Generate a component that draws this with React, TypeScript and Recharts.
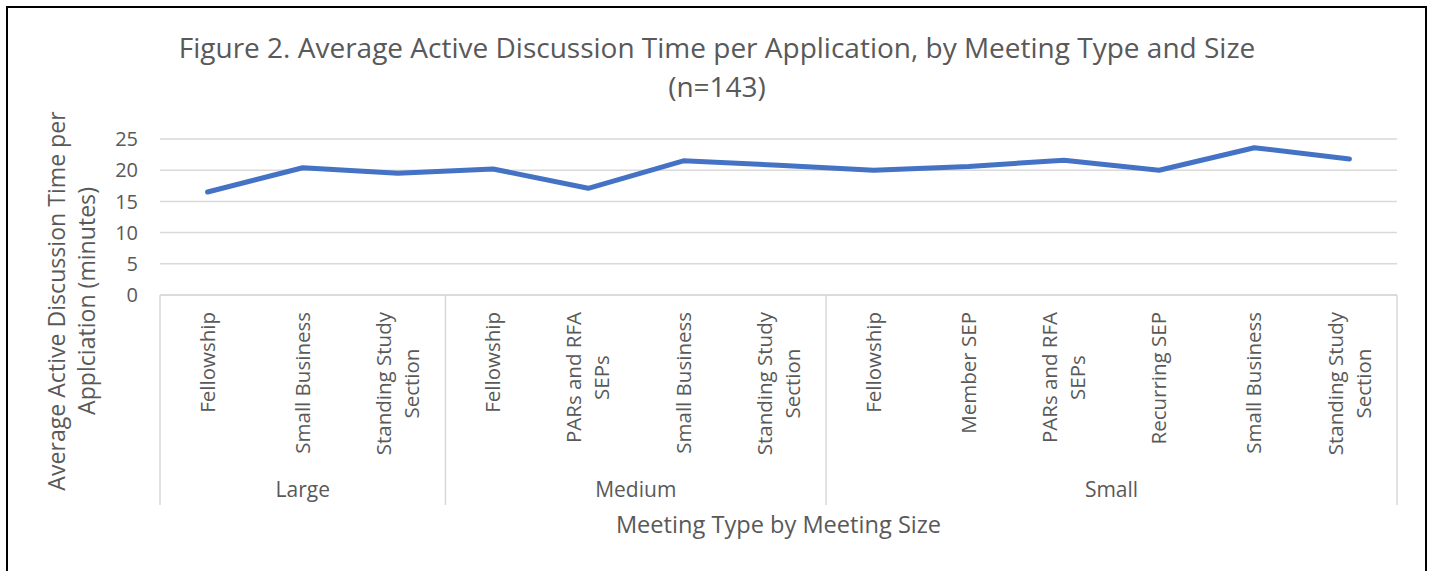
import React from 'react';
import { LineChart, Line, XAxis, YAxis, CartesianGrid } from 'recharts';

// Meeting size group for every category, in order along the axis
const meetingSizes = [
  'Large', 'Large', 'Large',
  'Medium', 'Medium', 'Medium', 'Medium',
  'Small', 'Small', 'Small', 'Small', 'Small', 'Small',
];

const meetingTypes = [
  'Fellowship', 'Small Business', 'Standing Study Section',
  'Fellowship', 'PARs and RFA SEPs', 'Small Business', 'Standing Study Section',
  'Fellowship', 'Member SEP', 'PARs and RFA SEPs', 'Recurring SEP', 'Small Business', 'Standing Study Section',
];

// average active discussion time per application (minutes)
const avgMinutes = [16.5, 20.4, 19.5, 20.2, 17.1, 21.5, 20.8, 20.0, 20.6, 21.6, 20.0, 23.6, 21.8];

const yTicks = [0, 5, 10, 15, 20, 25];

const chartTitle = 'Figure 2. Average Active Discussion Time per Application, by Meeting Type and Size';
const chartSubtitle = '(n=143)';
const yTitleLines = ['Average Active Discussion Time per', 'Applciation (minutes)'];
const xTitle = 'Meeting Type by Meeting Size';

const data = meetingTypes.map((type, i) => ({
  key: `${meetingSizes[i]}-${type}`,
  type,
  size: meetingSizes[i],
  minutes: avgMinutes[i],
}));

const W = 1434;
const H = 571;
const PLOT_LEFT = 160;
const PLOT_RIGHT = 1397;
const PLOT_TOP = 139;
const PLOT_BOTTOM = 295;
const X_AXIS_H = 210;
const Y_AXIS_W = 60;
const STEP = (PLOT_RIGHT - PLOT_LEFT) / data.length;

const FONT = '"Open Sans", "Noto Sans", sans-serif';
const TEXT = '#595959';
const GRID = '#d9d9d9';
const LABEL_SIZE = 20.5;
const GROUP_SIZE = 21;
const LABEL_MAX = 158;
const LINE_H = 28;

let ctx: CanvasRenderingContext2D | null = null;
const measure = (s: string) => {
  if (!ctx) ctx = document.createElement('canvas').getContext('2d');
  if (!ctx) return s.length * LABEL_SIZE * 0.55;
  ctx.font = `${LABEL_SIZE}px "Open Sans"`;
  return ctx.measureText(s).width;
};

// greedy word wrap, like Excel does for long category labels
const wrap = (s: string) => {
  const out: string[] = [];
  let cur = '';
  s.split(' ').forEach((w) => {
    const next = cur ? `${cur} ${w}` : w;
    if (cur && measure(next) > LABEL_MAX) {
      out.push(cur);
      cur = w;
    } else cur = next;
  });
  if (cur) out.push(cur);
  return out;
};

const CategoryTick = (props: any) => {
  const { x, index } = props;
  const d = data[index];
  if (!d) return null;
  const lines = wrap(d.type);
  const longest = Math.max(...lines.map(measure));
  const cy = PLOT_BOTTOM + 17 + longest / 2;
  const start = -((lines.length - 1) / 2) * LINE_H;

  const first = index === 0 || data[index - 1].size !== d.size;
  const count = data.filter((r) => r.size === d.size).length;
  const last = index === data.length - 1;

  return (
    <g>
      <text
        transform={`translate(${x},${cy}) rotate(-90)`}
        textAnchor="middle"
        fill={TEXT}
        fontSize={LABEL_SIZE}
        fontFamily={FONT}
      >
        {lines.map((l, i) => (
          <tspan key={i} x={0} y={start + i * LINE_H} dy="0.35em">{l}</tspan>
        ))}
      </text>
      {first && (
        <>
          <line x1={x - STEP / 2} x2={x - STEP / 2} y1={PLOT_BOTTOM} y2={505} stroke={GRID} strokeWidth={1.5} />
          <text
            x={x + ((count - 1) / 2) * STEP}
            y={497}
            textAnchor="middle"
            fill={TEXT}
            fontSize={GROUP_SIZE}
            fontFamily={FONT}
          >
            {d.size}
          </text>
        </>
      )}
      {last && (
        <line x1={x + STEP / 2} x2={x + STEP / 2} y1={PLOT_BOTTOM} y2={505} stroke={GRID} strokeWidth={1.5} />
      )}
    </g>
  );
};

export default function App() {
  return (
    <div style={{ position: 'absolute', left: 0, top: 0, width: W, height: H, overflow: 'hidden', background: '#fff' }}>
      <LineChart
        width={W}
        height={H}
        data={data}
        margin={{
          top: PLOT_TOP,
          right: W - PLOT_RIGHT,
          left: PLOT_LEFT - Y_AXIS_W,
          bottom: H - PLOT_BOTTOM - X_AXIS_H,
        }}
      >
        <CartesianGrid vertical={false} stroke={GRID} strokeWidth={1.5} />
        <XAxis
          dataKey="key"
          interval={0}
          height={X_AXIS_H}
          padding={{ left: STEP / 2, right: STEP / 2 }}
          tickLine={false}
          axisLine={{ stroke: GRID, strokeWidth: 1.5 }}
          tick={<CategoryTick />}
        />
        <YAxis
          width={Y_AXIS_W}
          domain={[0, 25]}
          ticks={yTicks}
          axisLine={false}
          tickLine={false}
          tickMargin={16}
          tick={{ fill: TEXT, fontSize: 20, fontFamily: FONT }}
        />
        <Line
          type="linear"
          dataKey="minutes"
          stroke="#4472C4"
          strokeWidth={5}
          strokeLinecap="round"
          strokeLinejoin="round"
          dot={false}
          activeDot={false}
          isAnimationActive={false}
        />
      </LineChart>
      <svg
        width={W}
        height={H}
        style={{ position: 'absolute', left: 0, top: 0, pointerEvents: 'none' }}
        fontFamily={FONT}
        fill={TEXT}
      >
        <rect x={7} y={7} width={1419} height={700} fill="none" stroke="#000" strokeWidth={2} />
        <text x={717} y={58} textAnchor="middle" fontSize={28}>{chartTitle}</text>
        <text x={717} y={97} textAnchor="middle" fontSize={28}>{chartSubtitle}</text>
        <text transform="translate(65,301) rotate(-90)" textAnchor="middle" fontSize={23.1}>
          {yTitleLines.map((l, i) => (
            <tspan key={i} x={0} y={i * 30}>{l}</tspan>
          ))}
        </text>
        <text x={(PLOT_LEFT + PLOT_RIGHT) / 2} y={533} textAnchor="middle" fontSize={23.6}>{xTitle}</text>
      </svg>
    </div>
  );
}
